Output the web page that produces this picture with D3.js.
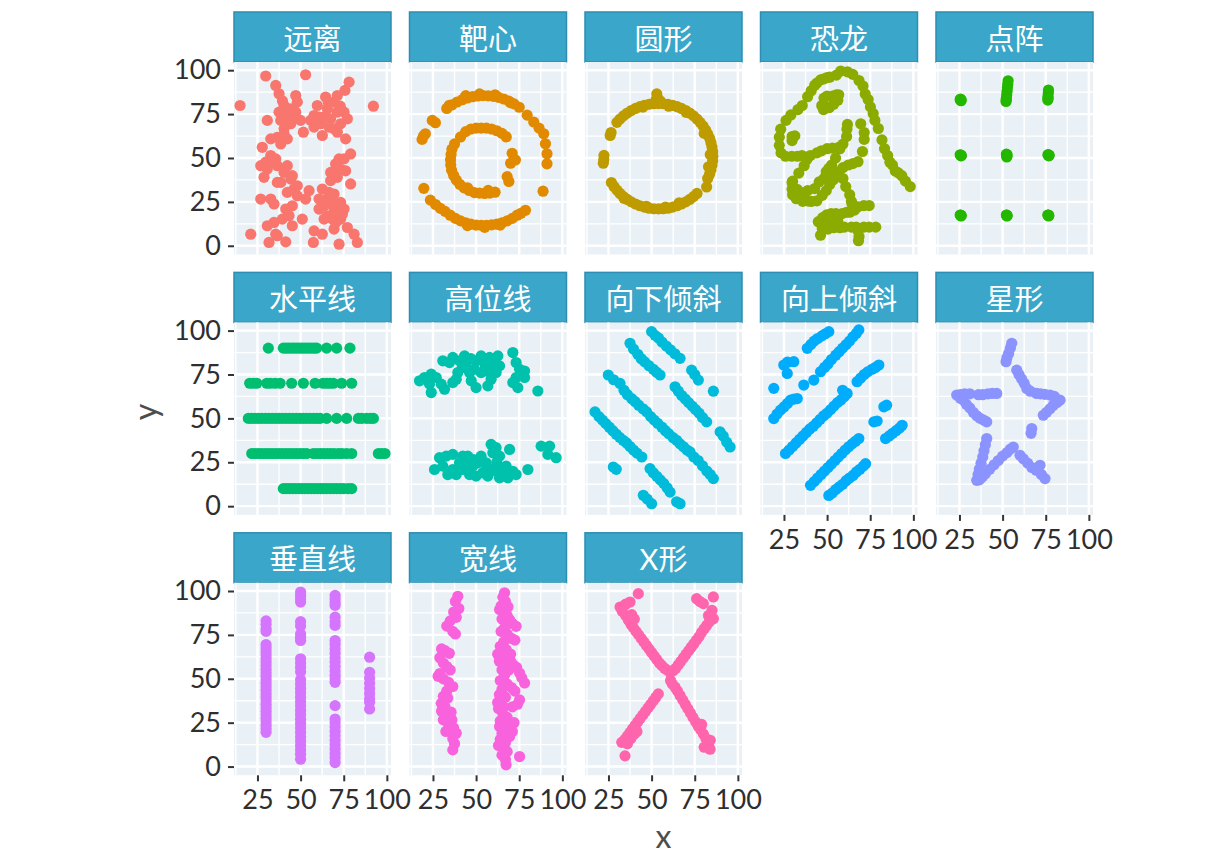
<!DOCTYPE html>
<meta charset="utf-8">
<script src="https://d3js.org/d3.v7.min.js"></script>
<style>
body{margin:0;background:#fff}
text{font-family:Lato,"Noto Sans CJK SC",sans-serif}
</style>
<div id="chart"></div>
<script>

// points, one array per panel ([x, y])
var away = [[14.9,79.9],[29.8,96.7],[52.9,97.4],[78.1,93.2],[75.7,88.5],[92.2,79.5],[35.6,91.3],[37.5,86.6],[47.2,85.6],[48.1,81.8],[40.4,79.9],[42.3,74.2],[38.5,71.4],[44.3,69.5],[40.4,66.6],[36.5,61.8],[42.3,60.9],[32.7,60.9],[38.5,58.0],[30.7,71.4],[51.6,64.7],[47.2,76.1],[50.0,71.4],[57.8,74.2],[64.5,84.7],[69.4,81.8],[65.5,78.0],[71.3,76.1],[75.2,76.1],[61.6,69.5],[67.4,72.3],[73.2,69.5],[62.6,62.8],[69.4,66.6],[76.1,60.9],[79.0,52.3],[75.2,49.5],[73.2,43.7],[71.3,39.0],[67.4,37.1],[79.0,35.2],[62.6,32.3],[69.4,29.5],[65.5,26.6],[73.2,24.7],[63.6,22.8],[69.4,20.9],[65.5,17.1],[73.2,15.2],[69.4,9.5],[77.1,10.4],[81.0,6.6],[82.9,1.9],[72.3,0.9],[62.6,6.6],[57.8,8.5],[57.4,1.9],[51.0,15.2],[54.9,31.4],[52.9,26.6],[45.2,22.8],[43.3,17.1],[45.2,11.4],[34.6,13.3],[35.6,6.6],[31.7,1.9],[41.4,2.2],[21.1,6.6],[26.9,26.6],[32.7,26.6],[27.8,56.1],[26.9,45.6],[30.7,43.7],[28.8,39.0],[35.6,49.5],[36.5,45.6],[40.4,41.8],[38.5,36.1],[44.3,38.0],[46.2,32.3],[42.3,30.4],[48.1,28.5],[32.7,47.6],[40.4,63.7],[44.3,78.0],[37.5,76.1],[59.7,79.9],[55.8,71.4],[71.3,85.6],[77.1,72.3],[71.3,64.7],[57.8,67.6],[66.5,67.6],[60.7,73.3],[72.3,49.5],[70.3,46.6],[67.4,41.8],[76.1,42.7],[60.7,26.6],[66.5,30.4],[69.4,23.8],[68.4,15.2],[70.3,13.3],[63.6,15.2],[60.7,20.9],[74.2,18.0],[75.2,20.9],[30.7,11.4],[36.5,5.7],[41.4,20.9],[39.4,15.2],[34.6,23.8],[32.7,51.4],[29.8,47.6],[36.5,36.1],[42.3,45.6],[45.2,39.9],[48.1,34.2],[39.5,82.5],[45.5,73],[66,82],[73,79.5],[63.5,73.5],[68,26],[71.5,18.5]]

var bullseye = [[33,78.2],[36,80.2],[39,81.9],[42,83.2],[45,84.2],[48,84.9],[51,85.3],[54,85.5],[57,85.4],[60,85.1],[63,84.5],[66,83.6],[69,82.4],[72,80.8],[75,78.9],[34.5,80],[44,85.5],[52,86.5],[61,86],[70,81.5],
  [79.6,74.4],[83.4,70.5],[86.5,67],[89.2,63.8],[90.2,58.1],[91.1,52.4],[91.1,46.7],[88.8,31.1],[78.6,20.2],[73.8,17.4],[76,18.5],
  [32,19.6],[35,17.4],[38,15.6],[41,14.2],[44,13.1],[47,12.3],[50,11.8],[53,11.6],[56,11.6],[59,11.9],[62,12.3],[65,13.1],[68,14.2],[71,15.6],[45,11.5],[55,10.5],[64,11.8],
  [19.7,32.7],[23.5,26],[29.3,21.3],[26.5,23.5],[18.7,60.6],[19.5,62.5],[20.6,63.8],[24.6,71.4],[26.4,70.1],
  [41,62],[44,65],[47,66.5],[50,67],[53,67],[56,67],[59,66.5],[62,65.5],[65,64],[67.5,62],
  [37.5,58],[36,55],[35.5,52],[35.2,49],[35.3,46],[35.8,43],[37,40],[38.5,37.5],
  [40.5,35],[43,33],[46,31.5],[49,30.3],[52,30],[55,29.8],[58,30],[61,30.5],[45,33],[57,31.5],
  [70.9,52.7],[72.8,48.9],[70,47],[68,39.4],[69,36.6]]

var circle = [[85.5,51],[85.4,53.6],[85.0,56.2],[84.4,58.8],[83.6,61.3],[82.5,63.7],[81.3,66],[79.8,68.2],[78.1,70.3],[76.3,72.2],[74.3,74],[72.1,75.6],[69.8,77],[67.3,78.2],[64.8,79.2],[62.2,80],[59.5,80.6],[56.7,80.9],[54,81],[51.3,80.9],[48.5,80.6],[45.8,80],[43.2,79.2],[40.7,78.2],[38.2,77],[35.9,75.6],[33.7,74],[31.7,72.2],[29.9,70.3],
  [53,86.5],[53.5,84],[52.5,83],[55,82.5],[26.5,64.5],[26,62.8],[22.4,51.5],[22,47],[22.3,49],
  [26.7,36],[28.2,33.8],[29.9,31.7],[31.7,29.8],[33.7,28],[35.9,26.4],[38.2,25],[40.7,23.8],[43.2,22.8],[45.8,22],[48.5,21.4],[51.3,21.1],[54,21],[56.7,21.1],[59.5,21.4],[62.2,22],[64.8,22.8],[67.3,23.8],[69.8,25],[72.1,26.4],[74.3,28],[76.3,29.8],
  [81.9,33.5],[82.5,38.3],[83.6,40.7],[84.4,43.2],[85.0,45.8],[85.4,48.4],[84,52],[80.5,64],[70,76],[60,79.5],[45,79],[47,22.5],[58,22],[66,24.5],[34,27],[83,45]]

var dino = [[55.4,97.2],[51.5,96.0],[46.2,94.5],[42.8,91.4],[40.8,88.3],[38.7,84.9],[35.6,79.9],[33.1,77.6],[29.0,74.5],[26.2,71.4],[23.1,66.4],[22.3,61.8],[22.3,57.2],[23.3,52.9],[25.9,51.0],[29.5,51.0],[32.8,51.0],[35.4,51.4],[40.3,51.4],[44.1,52.9],[46.7,54.1],[50.0,55.3],[53.1,55.6],[56.7,56.0],[59.2,57.9],[61.3,62.2],[61.5,66.4],[61.8,69.1],[57.4,55.3],[54.9,49.9],[52.6,46.0],[48.2,38.3],[49.5,42.2],[51.0,44.1],[45.4,36.4],[42.8,32.6],[38.7,31.4],[35.1,30.3],[32.6,32.2],[30.0,36.8],[33.6,41.4],[36.7,45.6],[38.2,49.1],[29.7,36.0],[29.7,32.2],[30.0,29.1],[32.1,26.8],[35.9,25.3],[41.0,25.3],[44.1,25.6],[47.2,28.7],[49.5,31.4],[51.5,34.9],[53.6,37.6],[55.1,40.6],[56.7,42.2],[59.2,44.5],[62.3,46.0],[64.9,46.8],[67.9,47.9],[70.5,53.7],[71.5,60.6],[71.5,64.5],[69.5,69.5],[46.9,79.9],[48.2,84.1],[50.0,85.3],[53.1,85.3],[55.4,86.0],[56.7,86.0],[56.2,82.9],[53.8,80.6],[51.3,78.7],[50.0,78.7],[47.9,77.6],[29.7,59.9],[29.7,62.2],[31.3,62.6],[57.9,99.5],[61.8,99.1],[64.9,97.6],[68.5,94.1],[70.8,91.0],[72.1,86.4],[73.8,83.3],[75.1,79.1],[76.7,75.3],[77.7,71.4],[79.7,66.8],[81.8,60.3],[83.3,55.3],[85.1,51.4],[86.4,47.6],[87.9,46.0],[89.5,42.6],[93.3,39.9],[95.4,36.8],[98.2,33.7],[56.7,40.6],[59.2,38.3],[60.8,33.7],[63.1,29.1],[64.1,25.3],[64.4,24.1],[74.4,22.9],[71.3,22.9],[67.9,22.2],[65.9,20.3],[63.1,19.1],[61.3,19.1],[58.7,18.3],[55.1,18.3],[52.3,18.3],[49.7,17.6],[47.4,16.0],[44.9,13.7],[48.7,14.9],[51.3,14.9],[54.1,14.9],[56.2,14.1],[52.1,12.6],[48.7,11.0],[47.2,9.9],[46.2,6.0],[50.5,9.5],[53.8,10.3],[57.4,10.3],[60.0,10.6],[64.1,10.6],[66.9,10.6],[71.3,10.6],[74.4,10.6],[78.2,10.6],[67.9,8.7],[68.5,5.3],[68.2,2.9],[37.7,25.8],[39.5,25.4],[91.3,41.5],[50.0,95.8],[47.9,95.0],[44.1,92.7]]

var dots = [[25.4,83.2],[25.9,82.6],[25.6,83.6],[26.0,83.1],[25.4,51.8],[25.9,51.2],[25.7,51.6],[26.1,51.4],[25.4,17.5],[25.9,17.0],[25.7,17.4],[26.0,17.2],
  [52.0,82.2],[52.2,84],[52.4,86],[52.6,88],[52.8,90],[53.0,92],[53.2,94],[52.1,83],
  [52.2,52.2],[52.5,51],[52.4,50.6],[52.6,51.8],[52.2,17.5],[52.6,17.1],[52.4,17.4],[52.5,17.0],
  [76.2,83],[76.3,85],[76.5,87],[76.6,88.7],[76.4,84],
  [76.3,51.9],[76.8,51.2],[76.5,51.6],[77.0,51.6],[76.2,17.5],[76.7,17.0],[76.5,17.4],[76.8,17.3]]

var hLines = [[31.3,90],[40,90],[41.5,90],[43,90],[44.5,90],[46,90],[47.5,90],[49,90],[50.5,90],[52,90],[53.5,90],[55,90],[56.5,90],[58,90],[59.3,90],[65.1,90],[70.9,90],[78.6,90],
  [20.5,70],[22.5,70],[24.6,70],[30.4,70],[32.5,70],[35.2,70],[38.1,70],[44.8,70],[51.6,70],[58.4,70],[63,70],[65.1,70],[67,70],[69,70],[73.8,70],[79.6,70],
  [19.7,50],[21.5,50],[23.5,50],[25.5,50],[27.5,50],[29.5,50],[31.5,50],[33.5,50],[35.5,50],[37.5,50],[39.5,50],[41.5,50],[43.5,50],[45.5,50],[47.5,50],[49.5,50],[51.5,50],[53.5,50],[55.5,50],[57.5,50],[59.5,50],[61.3,50],[65.1,50],[70.9,50],[76.7,50],[83.5,50],[85.5,50],[88.3,50],[90.5,50],[92.2,50],
  [21.7,30],[23.5,30],[25.5,30],[27.5,30],[29.5,30],[31.5,30],[33.5,30],[35.5,30],[37.5,30],[39.5,30],[41.5,30],[43.5,30],[45.5,30],[47.5,30],[49.5,30],[51.5,30],[53.5,30],[57.4,30],[59.5,30],[61.5,30],[63.5,30],[65.5,30],[67.5,30],[69.5,30],[72,30],[74,30],[76.7,30],[79.6,30],[95.1,30],[97,30],[98.9,30],
  [40,10],[41.8,10],[43.6,10],[45.4,10],[47.2,10],[49,10],[50.8,10],[52.6,10],[54.4,10],[56.2,10],[58,10],[59.8,10],[61.6,10],[63.4,10],[65.2,10],[67,10],[69,10],[71,10],[73,10],[75,10],[77.5,10],[79.6,10]]

var highLines = [[17.2,71.4],[20.1,73.3],[24.0,75.2],[26.9,73.3],[23.0,69.5],[29.8,69.5],[24.0,64.7],[31.7,66.6],[30.7,82.8],[36.5,84.7],[40.4,82.8],[44.3,81.8],[50.0,82.8],[52.9,85.6],[57.8,84.7],[62.6,85.6],[63.6,79.9],[46.2,76.1],[38.5,72.3],[36.5,70.4],[39.4,76.1],[47.2,71.4],[50.0,67.5],[52.9,76.1],[55.8,77.0],[58.7,72.3],[56.8,68.5],[61.6,76.1],[59.7,79.9],[71.3,87.5],[73.2,81.8],[75.2,78.0],[78.1,77.0],[73.2,73.3],[78.1,73.3],[74.2,67.5],[71.3,70.4],[85.8,65.6],[43.3,85.6],[34.6,81.8],[47,84],[55,81],[42,79],[60,82],[49,78],
  [28.8,27.6],[25.9,20.9],[32.7,28.5],[36.5,29.5],[30.7,22.8],[36.5,20.9],[42.3,20.9],[40.4,24.7],[45.2,28.5],[48.1,22.8],[50.0,17.1],[46.2,18.0],[52.9,28.5],[55.8,24.7],[58.7,35.2],[61.6,33.3],[63.6,28.5],[58.7,20.9],[53.9,19.0],[63.6,16.1],[69.4,32.3],[67.4,22.8],[71.3,19.9],[73.2,18.0],[68.4,16.1],[80.0,20.9],[87.7,34.2],[92.6,34.2],[91.6,29.5],[96.4,27.6],[38.5,18.0],[33.6,18.0],[51.0,24.7],[61.6,20.0],[65.5,20.0],[56.8,17.1],[59.7,30.4],[42.3,28.5],[44,24.5],[56,21],[62,25],[48.5,26.5]]

var slantDown = [[50,99.4],[52,97.3],[54,95.8],[56,93.5],[58.5,91.2],[61,89],[63.5,86.8],[66.5,84.2],[73.2,77.5],[75,75],[77.1,71.8],[85.8,65.5],
  [37.5,92.8],[39.5,89.5],[42,86.5],[44,84],[46,82.2],[48.5,80],[51,78],[53,76.2],[54.9,74.7],[63.6,68],[65.5,65.5],[67.5,63],[69.5,61],[71.5,59],[73.5,57],[75.5,55],[77.5,53],[79.5,50.5],[81.9,48],[89.7,42.3],[91.5,40],[93.5,36.5],[95.5,33.7],
  [24.9,74.7],[28,72],[31.7,69.9],[34,66],[36,63.5],[38.5,61.2],[40.5,59.5],[42.5,57.5],[45,55.5],[47.1,53.7],[49.5,51],[51.5,49],[53.5,47.2],[56,45],[58,43],[60,41.2],[62.5,39],[64.5,37.5],[66.5,35.5],[68.5,33.8],[70.5,32],[72.3,30.9],[74.5,28],[77,26],[79.5,23],[82,20],[84,18],[85.8,15.7],
  [17.2,53.7],[19.5,51],[21.5,49],[23.5,47],[25.5,45],[27.5,43],[29.5,41],[31.5,39.2],[33.5,37.5],[35.5,36],[37.5,34],[39.5,32],[41.5,30.2],[44.3,28],[27.8,22.3],[29.5,21],[49.1,21.4],[51,19],[53,17],[55,15],[57,13],[59,10.5],[60.7,8],[45.2,6.2],[47.5,4],[50,1.4],[66.5,1.4],[64.5,2.5]]

var slantUp = [[38.5,89.9],[40.5,92],[42.5,94],[44.5,95.5],[47,97],[49,98.2],[51,99.4],
  [46.2,76.6],[48.5,79],[50.5,81],[52.5,83.5],[55,86],[57,88],[59,90],[61,92],[63,94],[65,96.5],[67,98.5],[68.4,100.4],
  [19.1,67.1],[24.9,80.4],[27,82],[30.7,82.3],[26.9,75.6],[36.5,69],[42.3,71.8],[19.1,49.9],[21,52.5],[23,54.7],[25,56.5],[27,58.5],[28.8,60.4],[30.8,61],[32.7,61.3],
  [25.9,30],[28,32],[30,34],[32,36],[34,38],[36,40],[38,42],[40,44],[42,45.5],[44,47.5],[46,49.5],[48,51.5],[50,53],[52,55],[54,57],[56,59],[58,60.5],[60,62.5],[61.6,64.2],[59,66],[67.4,70.9],[69.5,73],[71.5,75],[73.5,76.5],[76,78],[78,79],[80,80.4],
  [40.4,11.9],[42.5,14],[44.5,16],[46.5,18],[48.5,20],[50.5,22],[52.5,24],[54.5,26],[56.5,28],[58.5,30],[60.5,32],[62.5,33.8],[64.5,35.5],[66.5,37],[68.4,38.5],
  [51,6.1],[53,7.5],[55,9.5],[57,11],[59,12.5],[61,14.5],[63,16],[65,17.5],[67,19.5],[69,21],[71,22.8],[72.3,24.2],
  [82.9,56.6],[84.5,57.5],[77.1,48],[79,48.5],[83.9,38.5],[86,40],[88,41.5],[90,43],[92,44.5],[93.5,46.1]]

var star = [[55.3,92.8],[54.5,90],[53.5,87],[52.5,84.5],[52,82.3],[58.2,77.5],[59.5,75],[61,72.5],[62.5,70],[64,67],[66,65.5],[69.7,64.2],[72,64],[74.5,63.7],[77.5,63.3],[80,62.5],[83.3,60.4],[81.5,59],[79.4,57.5],[77.5,55.5],[75.5,53.5],[73.6,51.8],[66.9,44.2],[66.5,41.5],[60.1,29],[62,27],[64.5,24.5],[67,22],[69.5,20.5],[71.7,23.3],[72.5,18],[74.6,15.7],
  [23.4,63.3],[25.5,63.5],[28,64],[31,64],[36,63.5],[38.5,63.5],[41.5,64],[44,64.2],[46.6,64.2],[25.5,61.5],[27.2,60.4],[29,58],[31,56],[33,53.5],[35,51.5],[37,50],[39,49],[40.8,48],
  [40.8,38.5],[40,35],[39.2,31.5],[38.5,28],[37.5,24.5],[36.5,21],[35.8,18],[35,14.7],[37.5,16],[40,18.5],[42.5,21],[45,23.5],[47.5,26],[50,28.5],[52.5,30.5],[54.5,32.5],[56.2,33.7],[36.5,15],[38.5,17]]

var vLines = [[30,83],[30,81],[30,78.5],[30,77],[30,69.5],[30,67.5],[30,65.5],[30,63.5],[30,61.5],[30,59.5],[30,57.5],[30,55.5],[30,53.5],[30,51.5],[30,49.5],[30,47.5],[30,45.5],[30,43.5],[30,41.5],[30,39.5],[30,37.5],[30,35.5],[30,33.5],[30,31.5],[30,29.5],[30,27.5],[30,25.5],[30,23.5],[30,21.5],[30,19.5],
  [50,99.4],[50,97.5],[50,95.5],[50,93.7],[50,82.5],[50,80],[50,75.5],[50,73.5],[50,71.8],[50,61.4],[50,59],[50,56.5],[50,54],[50,49.5],[50,47],[50,44.5],[50,42],[50,39.5],[50,37],[50,34.5],[50,32],[50,29.5],[50,27],[50,24.5],[50,22],[50,19.5],[50,17],[50,14.5],[50,12],[50,9.5],[50,7],[50,4.2],
  [70,97.5],[70,95.5],[70,93.5],[70,91.8],[70,85.1],[70,82.5],[70,80.4],[70,71.8],[70,69.5],[70,67],[70,64.5],[70,62],[70,59.5],[70,57],[70,54.5],[70,52],[70,50],[70,48],[70,34.7],[70,27.1],[70,25],[70,22.5],[70,20],[70,17.5],[70,15],[70,12.5],[70,10],[70,7.5],[70,5],[70,2.3],
  [90,62.3],[90,53.7],[90,50.5],[90,47.5],[90,44.5],[90,41.5],[90,38.5],[90,36.6],[90,32.8]]

var wideLines = [[39.4,97],[38,94],[40,90],[37,88],[38.5,85],[35,83],[33,80],[36.5,77],[38,75.5],[30,67],[32,66],[34.5,64.5],[29,62],[31,59],[33,57],[35,55],[29,53],[28,51.4],[31,50],[34,48],[36.5,45.6],[33,43],[31,40],[33.6,39],[29.8,36],[32,34],[30,31.5],[33,30],[35,28],[31,26.6],[36,26.6],[34,24],[37,22],[38.5,19],[36.5,16],[37.5,13],[36.5,9.5],[35.5,31],[32.5,20],
  [66.5,99],[65.5,96.5],[67,94],[64.5,91.5],[63.6,89.4],[66,87.5],[68,86],[69.4,83.7],[65,84],[71,81.5],[73.2,79.9],[66.5,79],[64.5,77],[68,75.5],[70.5,73],[72.5,72],[66,71],[64,68.5],[67.5,66.5],[70,64],[65,62.5],[63.5,60],[67,58.5],[71.5,58],[73.5,56.5],[75.2,53.3],[76.5,50.5],[78.1,47.6],[69,55],[65,55],[66.5,52],[64,49],[68,47],[70.5,45],[72.5,43],[65,44],[63.5,41],[67,39.5],[75.2,38],[74,35.5],[71,34],[66,34],[63,33],[65.5,30],[68,28],[64,26],[66.5,24],[63.6,22.8],[69.4,21],[71,20],[65,19],[69.4,17.1],[64,15.5],[67,13.5],[63,12],[66,10],[68,8.5],[65,6.5],[67,4],[67.4,1],[75.2,5.7],[62.5,36.5],[62.5,64],[68.5,91],[70,60],[72,25]]

var xShape = [[42.3,98.5],[37.5,93.7],[35,92.5],[31.7,90.9],[33,88.5],[35,86],[36.5,83.5],[38,81],[39.5,79],[41,77],[42.5,75],[44,73],[45.5,71],[47,69],[48.5,67],[50,65],[51.5,63],[53,61],[54.5,59],[56,57.5],[57.5,56],[59,55],[60.7,53.7],[38.5,86.5],[40,84],
  [62.5,54.5],[64,56],[65.5,58],[67,60],[68.5,62],[70,64],[71.5,66],[73,68],[74.5,70],[76,72],[77.5,74],[79,76.5],[80.5,78.5],[82,80.5],[83.5,82.5],[85.8,84.2],[84.5,86],[85,89],[76.1,95.6],[78,94],[80,92.8],[85.8,96.6],[83,86],
  [53.9,41.4],[52.5,39.5],[51,37.5],[49.5,35.5],[48,33.5],[46.5,31.5],[45,29.5],[43.5,27.5],[42,25.5],[40.5,23.5],[39,21.5],[37.5,19.5],[36,17.5],[34.5,15.5],[32.7,13.8],[34.6,6.1],[38,16],[40,18.5],[36,13],[41.5,20],
  [62,47],[63.6,45.2],[65,43],[66.5,40.5],[68,38],[69.5,35.5],[71,33],[72.5,30.5],[74,28],[75.5,25.5],[77,23],[78.5,21],[80,18.5],[81.5,16],[83,13.5],[83.9,9.9],[80.5,11],[82.5,11.5],[84,15],[79,24],[61,49]]

var panelNames = ["远离","靶心","圆形","恐龙","点阵","水平线","高位线","向下倾斜","向上倾斜","星形","垂直线","宽线","X形"]
var panelColors = ["#F8766D","#E18A00","#BE9C00","#8CAB00","#24B700","#00BE70","#00C1AB","#00BBDA","#00ACFC","#8B93FF","#D575FE","#F962DD","#FF65AC"]
var panelData = [away,bullseye,circle,dino,dots,hLines,highLines,slantDown,slantUp,star,vLines,wideLines,xShape]

var xTicks = [25,50,75,100]
var yTicks = [0,25,50,75,100]
var xMinor = [12.5,37.5,62.5,87.5]
var yMinor = [12.5,37.5,62.5,87.5]

// layout
var width = 1210, height = 864
var ncol = 5
var left0 = 234, colStep = 175.5, panelW = 157
var top0 = 12, rowStep = 260.4, stripH = 50, panelH = 192.5

var svg = d3.select("#chart").append("svg").attr("width",width).attr("height",height)

var x = d3.scaleLinear().domain([11.4,102.4]).range([0,panelW])
var y = d3.scaleLinear().domain([-4.97,104.67]).range([panelH,0])

for(var i in panelData){
	var col = i % ncol
	var row = Math.floor(i / ncol)
	var px = left0 + col*colStep
	var py = top0 + row*rowStep

	// strip
	svg.append("rect").attr("x",px).attr("y",py).attr("width",panelW).attr("height",stripH)
		.attr("fill","#3AA6C9").attr("stroke","#2D8DB2").attr("stroke-width",1.5)
	svg.append("text").text(panelNames[i])
		.attr("x",px+panelW/2).attr("y",py+stripH/2+1)
		.attr("text-anchor","middle").attr("dominant-baseline","central")
		.style("font-size","29px").attr("fill","#fff")

	var g = svg.append("g").attr("transform","translate("+px+","+(py+stripH)+")")
	g.append("rect").attr("width",panelW).attr("height",panelH).attr("fill","#EAF1F6")

	// grid
	g.selectAll(".xminor").data(xMinor).enter().append("line")
		.attr("x1",d=>x(d)).attr("x2",d=>x(d)).attr("y1",0).attr("y2",panelH)
		.attr("stroke","#fff").attr("stroke-width",1.3)
	g.selectAll(".yminor").data(yMinor).enter().append("line")
		.attr("y1",d=>y(d)).attr("y2",d=>y(d)).attr("x1",0).attr("x2",panelW)
		.attr("stroke","#fff").attr("stroke-width",1.3)
	g.selectAll(".xmajor").data(xTicks).enter().append("line")
		.attr("x1",d=>x(d)).attr("x2",d=>x(d)).attr("y1",0).attr("y2",panelH)
		.attr("stroke","#fff").attr("stroke-width",2.4)
	g.selectAll(".ymajor").data(yTicks).enter().append("line")
		.attr("y1",d=>y(d)).attr("y2",d=>y(d)).attr("x1",0).attr("x2",panelW)
		.attr("stroke","#fff").attr("stroke-width",2.4)

	// points
	g.selectAll(".pt").data(panelData[i]).enter().append("circle")
		.attr("cx",d=>x(d[0])).attr("cy",d=>y(d[1])).attr("r",5.6)
		.attr("fill",panelColors[i])

	// axes
	if(col==0){
		var ya = g.append("g").call(d3.axisLeft(y).tickValues(yTicks).tickSize(6).tickPadding(7))
		styleAxis(ya)
	}
	if(row==2 || (row==1 && col>=3)){
		var xa = g.append("g").attr("transform","translate(0,"+panelH+")")
			.call(d3.axisBottom(x).tickValues(xTicks).tickSize(6).tickPadding(9))
		styleAxis(xa)
	}
}

function styleAxis(a){
	a.select(".domain").remove()
	a.selectAll("line").attr("stroke","#333").attr("stroke-width",2)
	a.selectAll("text").attr("fill","#2e2e2e").style("font-size","27px").style("font-family","Lato")
}

// axis titles
svg.append("text").text("x").attr("x",left0+(4*colStep+panelW)/2).attr("y",848)
	.attr("text-anchor","middle").style("font-size","32px").attr("fill","#4d4d4d")
svg.append("text").text("y").attr("transform","translate(157,412) rotate(-90)")
	.attr("text-anchor","middle").style("font-size","32px").attr("fill","#4d4d4d")

</script>
